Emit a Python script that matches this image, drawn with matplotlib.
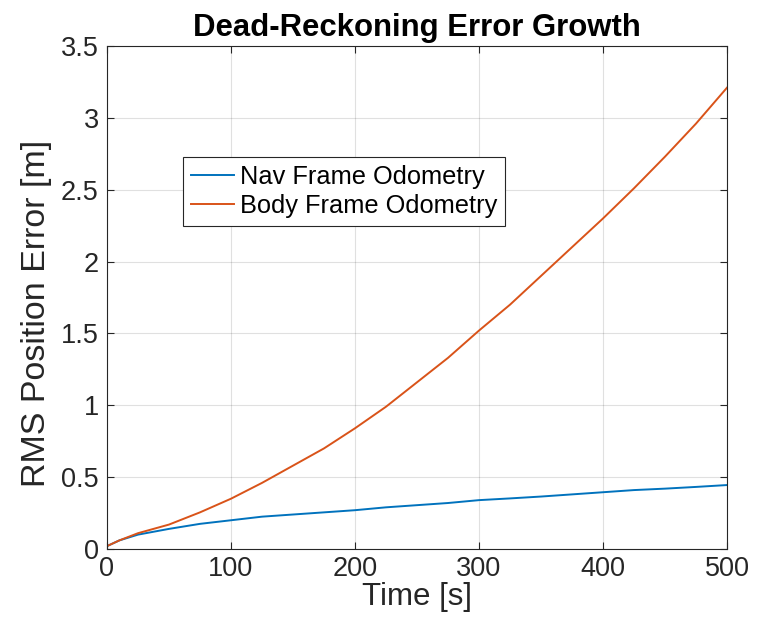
import matplotlib
matplotlib.use('Agg')
import matplotlib.pyplot as plt
import numpy as np

# values
t = [0, 10, 25, 50, 75, 100, 125, 150, 175, 200, 225, 250, 275, 300,
     325, 350, 375, 400, 425, 450, 475, 500]
nav_err = [0.02, 0.06, 0.10, 0.14, 0.175, 0.20, 0.225, 0.24, 0.255, 0.27,
           0.29, 0.305, 0.32, 0.34, 0.352, 0.365, 0.38, 0.395, 0.41, 0.42,
           0.432, 0.445]
body_err = [0.02, 0.06, 0.11, 0.17, 0.255, 0.35, 0.46, 0.58, 0.70, 0.84,
            0.99, 1.16, 1.33, 1.52, 1.70, 1.90, 2.10, 2.30, 2.51, 2.73,
            2.96, 3.21]
xticks = [0, 100, 200, 300, 400, 500]
yticks = [0, 0.5, 1, 1.5, 2, 2.5, 3, 3.5]

plt.rcParams['font.family'] = ['Liberation Sans', 'DejaVu Sans']
axcol = '#262626'

f = plt.figure(figsize=(7.62, 6.36), dpi=100)
ax = f.add_axes([107/762, 87/636, 620/762, 503/636])

ax.plot(t, nav_err, '-', color='#0072BD', lw=1.4, label='Nav Frame Odometry')
ax.plot(t, body_err, '-', color='#D95319', lw=1.4, label='Body Frame Odometry')

ax.set_xlim(0, 500)
ax.set_ylim(0, 3.5)
ax.set_xticks(xticks)
ax.set_yticks(yticks)
ax.set_xticklabels([str(v) for v in xticks])
ax.set_yticklabels(['0', '0.5', '1', '1.5', '2', '2.5', '3', '3.5'])
ax.grid(True, color='#000000', alpha=0.12, lw=0.8)
ax.tick_params(direction='in', length=5, width=0.8, labelsize=19.5,
               colors=axcol, top=True, right=True)
ax.tick_params(axis='y', pad=6)
ax.tick_params(axis='x', pad=5)
for s in ax.spines.values():
    s.set_color(axcol)
    s.set_linewidth(0.8)

ax.set_title('Dead-Reckoning Error Growth', fontsize=22.4, weight='bold', pad=7)
ax.set_xlabel('Time [s]', fontsize=22.5, color=axcol, labelpad=0)
ax.set_ylabel('RMS Position Error [m]', fontsize=24.5, color=axcol)
ax.yaxis.set_label_coords(-0.088, 0.469)

leg = ax.legend(loc='upper left', bbox_to_anchor=(0.123, 0.779), fontsize=18.3,
                fancybox=False, framealpha=1, edgecolor='#262626',
                handlelength=1.7, handletextpad=0.25, borderpad=0.3,
                labelspacing=0.22, borderaxespad=0)
leg.get_frame().set_linewidth(0.8)

f.savefig('out.png', dpi=100)
